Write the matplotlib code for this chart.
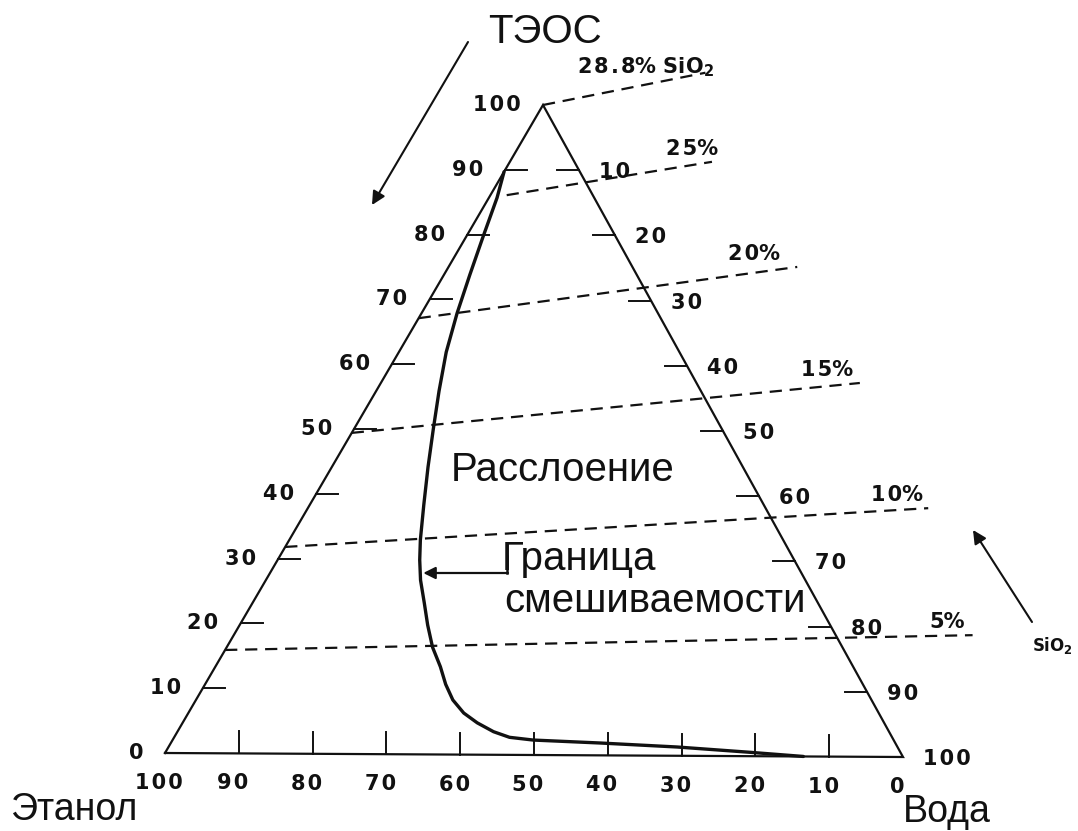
import numpy as np
import matplotlib
matplotlib.use("Agg")
import matplotlib.pyplot as plt

# ternary diagram TEOS - ethanol - water, miscibility boundary and SiO2 isolines

# vertices of the triangle in figure pixels (layout)
E = np.array([165.0, 753.0])   # ethanol
W = np.array([903.0, 757.0])   # water
T = np.array([543.0, 105.0])   # TEOS

ticks = [10, 20, 30, 40, 50, 60, 70, 80, 90]
left_labels = ['0', '10', '20', '30', '40', '50', '60', '70', '80', '90', '100']
right_labels = ['10', '20', '30', '40', '50', '60', '70', '80', '90', '100']
bottom_labels = ['100', '90', '80', '70', '60', '50', '40', '30', '20', '10', '0']

# miscibility boundary, TEOS % and water %
curve_teos = [89.7, 85.7, 79.6, 73.8, 67.9, 61.9, 55.9, 50.1, 44.2, 38.4, 33.0,
              29.9, 26.8, 23.3, 19.9, 16.5, 13.5, 10.8, 8.4, 6.4, 4.9, 3.55,
              2.7, 2.3, 1.9, 1.35, 0.6, 0.0]
curve_water = [0.0, 1.1, 2.3, 3.5, 4.8, 6.4, 8.5, 10.7, 13.0, 15.4, 17.7,
               19.2, 20.9, 23.2, 25.4, 27.8, 30.4, 32.5, 34.7, 37.2, 39.8, 42.7,
               45.3, 48.7, 58.0, 68.7, 78.9, 86.5]

# SiO2 isolines (start and end in TEOS %, water %)
iso_values = ['28.8', '25', '20', '15', '10', '5']
iso_start_teos = [100.0, 86.1, 67.1, 49.4, 31.8, 15.9]
iso_start_water = [0.0, 2.2, 0.0, 0.0, 0.0, 0.0]
iso_end_teos = [105.1, 91.4, 75.3, 57.5, 38.3, 18.8]
iso_end_water = [19.4, 27.3, 47.1, 64.7, 83.8, 99.8]
iso_label_dx = [8, 6, -17, -7, -5, -8]
iso_label_dy = [6, -3, -3, -3, -3, -3]


def tern(teos, water):
    t = np.asarray(teos, dtype=float) / 100.0
    w = np.asarray(water, dtype=float) / 100.0
    x = E[0] + w * (W[0] - E[0]) + t * (T[0] - E[0])
    y = E[1] + w * (W[1] - E[1]) + t * (T[1] - E[1])
    return x, y


def spaced(s):
    # the original numbers are set with a bit of tracking
    return '\u200a'.join(s)


fig = plt.figure(figsize=(10.78, 8.31), dpi=100)
ax = fig.add_axes([0, 0, 1, 1])
ax.set_xlim(0, 1078)
ax.set_ylim(831, 0)
ax.axis('off')

ink = '#111111'
num = dict(fontsize=15, fontweight='bold', family='DejaVu Sans', color=ink)
big = dict(family='Liberation Sans', color=ink)

# triangle
tx, ty = tern([0, 0, 100, 0], [0, 100, 0, 0])
ax.plot(tx, ty, color=ink, lw=1.6, solid_joinstyle='miter')

tick_len = 22
# left edge (TEOS)
for i, v in enumerate([0] + ticks + [100]):
    x, y = tern(v, 0)
    if 0 < v < 100:
        ax.plot([x, x + tick_len], [y, y], color=ink, lw=1.4)
    ax.text(x - 22, y, spaced(left_labels[i]), ha='right', va='center', **num)

# right edge (water)
for i, v in enumerate(ticks + [100]):
    x, y = tern(100 - v, v)
    if v < 100:
        ax.plot([x - tick_len, x], [y, y], color=ink, lw=1.4)
    ax.text(x + 20, y + 2, spaced(right_labels[i]), ha='left', va='center', **num)

# bottom edge (ethanol)
for i, v in enumerate([0] + ticks + [100]):
    x, y = tern(0, v)
    if 0 < v < 100:
        ax.plot([x, x], [y, y - tick_len], color=ink, lw=1.4)
    ax.text(x - 6, y + 30, spaced(bottom_labels[i]), ha='center', va='center', **num)

# SiO2 isolines
for k in range(len(iso_values)):
    x0, y0 = tern(iso_start_teos[k], iso_start_water[k])
    x1, y1 = tern(iso_end_teos[k], iso_end_water[k])
    ax.plot([x0, x1], [y0, y1], color=ink, lw=1.6, dashes=(5.5, 3.5))
    label = spaced(iso_values[k]) + '%'
    if k == 0:
        label += r' SiO$_\mathbf{2}$'
    ax.text(x1 + iso_label_dx[k], y1 + iso_label_dy[k], label,
            ha='right', va='bottom', **num)

# miscibility boundary
cx, cy = tern(curve_teos, curve_water)
ax.plot(cx, cy, color=ink, lw=2.4, solid_capstyle='round', solid_joinstyle='round')

# corner names
ax.text(545, 32, 'ТЭОС', ha='center', va='center', fontsize=29, **big)
ax.text(10, 810, 'Этанол', ha='left', va='center', fontsize=27, **big)
ax.text(903, 812, 'Вода', ha='left', va='center', fontsize=27, **big)

ax.text(563, 470, 'Расслоение', ha='center', va='center', fontsize=29, **big)
ax.text(502, 570, 'Граница', ha='left', va='baseline', fontsize=29, **big)
ax.text(655, 601, 'смешиваемости', ha='center', va='center', fontsize=29, **big)

# pointer from the label to the boundary
ay = 573.0
ax_target = np.interp(ay, cy, cx)
ax.plot([507, 507], [556, ay], color=ink, lw=1.8)
ax.annotate('', xy=(ax_target + 3, ay), xytext=(508, ay),
            arrowprops=dict(arrowstyle='-|>', color=ink, lw=1.6,
                            mutation_scale=18, shrinkA=0, shrinkB=0))

# direction arrows
ax.annotate('', xy=(372, 205), xytext=(468, 42),
            arrowprops=dict(arrowstyle='-|>', color=ink, lw=1.5,
                            mutation_scale=20, shrinkA=0, shrinkB=0))
ax.annotate('', xy=(973, 530), xytext=(1032, 622),
            arrowprops=dict(arrowstyle='-|>', color=ink, lw=1.5,
                            mutation_scale=20, shrinkA=0, shrinkB=0))
ax.text(1052, 646, r'SiO$_\mathbf{2}$', ha='center', va='center',
        fontsize=12, fontweight='bold', family='DejaVu Sans', color=ink)

fig.savefig('out.png', dpi=100, facecolor='white')
